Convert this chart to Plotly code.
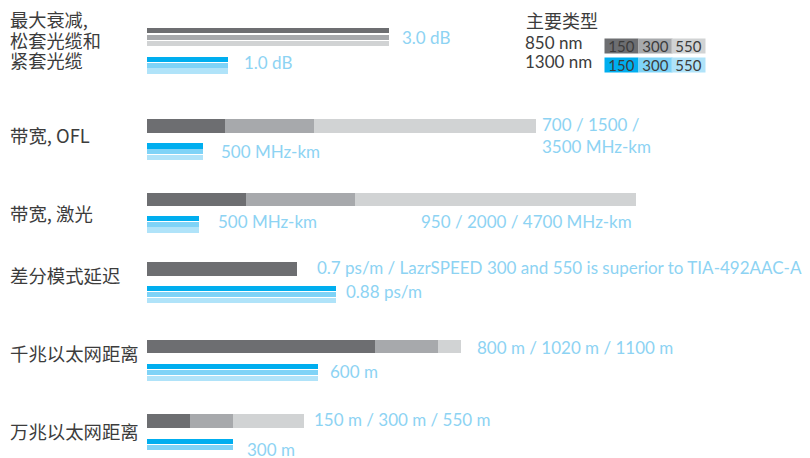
import plotly.graph_objects as go

# ---------------- data ----------------
row_labels = ["最大衰减,<br>松套光缆和<br>紧套光缆", "带宽, OFL", "带宽, 激光",
              "差分模式延迟", "千兆以太网距离", "万兆以太网距离"]
gray_150 = [3.0, 700, 950, 0.7, 800, 150]
gray_300 = [3.0, 1500, 2000, 0.7, 1020, 300]
gray_550 = [3.0, 3500, 4700, 0.7, 1100, 550]
blue_150 = [1.0, 500, 500, 0.88, 600, 300]
blue_300 = [1.0, 500, 500, 0.88, 600, 300]
blue_550 = [1.0, 500, 500, 0.88, 600, None]
gray_text = ["3.0 dB", "700 / 1500 /<br>3500 MHz-km", "950 / 2000 / 4700 MHz-km",
             "0.7 ps/m / LazrSPEED 300 and 550 is superior to TIA-492AAC-A",
             "800 m / 1020 m / 1100 m", "150 m / 300 m / 550 m"]
blue_text = ["1.0 dB", "500 MHz-km", "500 MHz-km", "0.88 ps/m", "600 m", "300 m"]
legend_title = "主要类型"
legend_rows = ["850 nm", "1300 nm"]
legend_types = ["150", "300", "550"]

# ---------------- style / layout ----------------
W, H = 810, 458
X0 = 147  # pixel where value 0 sits
px_per_unit = [80.7, 0.111, 0.104, 214.5, 0.285, 0.285]
gray_cols = ["#6d6e71", "#a7a9ac", "#d1d3d4"]
blue_cols = ["#00aeef", "#7fd3f7", "#b0e3f9"]
label_col = "#8dd3f3"
dark_text = "#3c3c3c"
gray_mode = ["stripes", "overlay", "overlay", "overlay", "overlay", "overlay"]
gray_center = [None, 126.0, 199.7, 269.0, 346.7, 421.0]
gray_h = 13.4
gray_stripe_top = 28.3
blue_top = [56.7, 143.3, 215.7, 286.0, 364.0, 439.0]
pitch, stripe_h = 5.8, 5.2
label_font = dict(family="Lato", size=17, color=label_col)
cjk = "Noto Sans CJK SC"
gray_label_shift = [11, 4.5, -2, 18, 14, 8]
blue_label_shift = [14, 16, 17, 8, 10, 12.5]

fig = go.Figure()

def axname(i):
    return "x" if i == 0 else f"x{i+1}"

grays = [gray_150, gray_300, gray_550]
blues = [blue_150, blue_300, blue_550]

for i in range(len(row_labels)):
    xa = axname(i)
    # gray (850 nm)
    if gray_mode[i] == "stripes":
        for k in range(3):
            v = grays[k][i]
            fig.add_trace(go.Bar(x=[v], y=[gray_stripe_top + k * 6.2 + 2.5], width=[5.0],
                                 orientation="h", marker=dict(color=gray_cols[k], line_width=0),
                                 xaxis=xa, yaxis="y", showlegend=False, hoverinfo="skip"))
    else:
        for k in [2, 1, 0]:
            v = grays[k][i]
            fig.add_trace(go.Bar(x=[v], y=[gray_center[i]], width=[gray_h],
                                 orientation="h", marker=dict(color=gray_cols[k], line_width=0),
                                 xaxis=xa, yaxis="y", showlegend=False, hoverinfo="skip"))
    # blue (1300 nm)
    for k in range(3):
        v = blues[k][i]
        if v is None:
            continue
        fig.add_trace(go.Bar(x=[v], y=[blue_top[i] + k * pitch + stripe_h / 2], width=[stripe_h],
                             orientation="h", marker=dict(color=blue_cols[k], line_width=0),
                             xaxis=xa, yaxis="y", showlegend=False, hoverinfo="skip"))

layout = dict(
    width=W, height=H, margin=dict(l=0, r=0, t=0, b=0),
    paper_bgcolor="white", plot_bgcolor="white", barmode="overlay", bargap=0,
    yaxis=dict(range=[H, 0], domain=[0, 1], visible=False, fixedrange=True),
)
for i, s in enumerate(px_per_unit):
    key = "xaxis" if i == 0 else f"xaxis{i+1}"
    ax = dict(range=[-X0 / s, (W - X0) / s], domain=[0, 1], visible=False, fixedrange=True,
              anchor="y")
    if i > 0:
        ax["overlaying"] = "x"
    layout[key] = ax
fig.update_layout(**layout)

ann = []
# left row labels (row 1 split into its three lines)
first_lines = row_labels[0].split("<br>")
first_line_y = [19, 39.5, 60]
for t, yy in zip(first_lines, first_line_y):
    ann.append(dict(text=t, x=8 / W, xref="paper", y=yy, yref="y",
                    xanchor="left", yanchor="middle", align="left", showarrow=False,
                    font=dict(family=cjk, size=18.2, color=dark_text)))
row_label_y = [None, 135, 213, 275, 353, 431]
for i, t in enumerate(row_labels):
    if i == 0:
        continue
    ann.append(dict(text=t, x=8 / W, xref="paper", y=row_label_y[i], yref="y",
                    xanchor="left", yanchor="middle", align="left", showarrow=False,
                    font=dict(family=cjk, size=18.4, color=dark_text)))

# value labels
gray_label_y = [37.5, None, 221.5, 267.5, 347.5, 419.5]
blue_label_y = [62.5, 151.5, 221.5, 291.5, 371.5, 449.5]
for i in range(len(row_labels)):
    xa = axname(i)
    gmax = max(g[i] for g in grays)
    bmax = max(b[i] for b in blues if b[i] is not None)
    if i == 1:
        ann.append(dict(text=gray_text[i], x=gmax, xref=xa, y=112, yref="y", xanchor="left",
                        yanchor="top", align="left", xshift=gray_label_shift[i],
                        showarrow=False, font=label_font))
    elif i == 2:
        ann.append(dict(text=gray_text[i], x=gmax, xref=xa, y=gray_label_y[i], yref="y",
                        xanchor="right", yanchor="middle", xshift=gray_label_shift[i],
                        showarrow=False, font=label_font))
    else:
        ann.append(dict(text=gray_text[i], x=gmax, xref=xa, y=gray_label_y[i], yref="y",
                        xanchor="left", yanchor="middle", xshift=gray_label_shift[i],
                        showarrow=False, font=label_font))
    ann.append(dict(text=blue_text[i], x=bmax, xref=xa, y=blue_label_y[i], yref="y",
                    xanchor="left", yanchor="middle", xshift=blue_label_shift[i],
                    showarrow=False, font=label_font))

# legend
ann.append(dict(text=legend_title, x=524 / W, xref="paper", y=20, yref="y", xanchor="left",
                yanchor="middle", showarrow=False,
                font=dict(family=cjk, size=18, color=dark_text)))
leg_y = [45.5, 64.5]
for r, name in enumerate(legend_rows):
    ann.append(dict(text=name, x=523 / W, xref="paper", y=leg_y[r] - 3.5, yref="y",
                    xanchor="left", yanchor="middle", showarrow=False,
                    font=dict(family="Lato", size=17, color=dark_text)))
    cols = gray_cols if r == 0 else blue_cols
    for k, t in enumerate(legend_types):
        ann.append(dict(text=t, x=(605 + k * 33.4 + 16.7) / W, xref="paper", y=leg_y[r],
                        yref="y", xanchor="center", yanchor="middle", showarrow=False,
                        width=33, height=14, bgcolor=cols[k], borderpad=0,
                        font=dict(family="Lato", size=15, color=dark_text)))

fig.update_layout(annotations=ann)
fig.write_html("out.html", config={"displayModeBar": False},
               post_script="document.body.style.margin='0';")
